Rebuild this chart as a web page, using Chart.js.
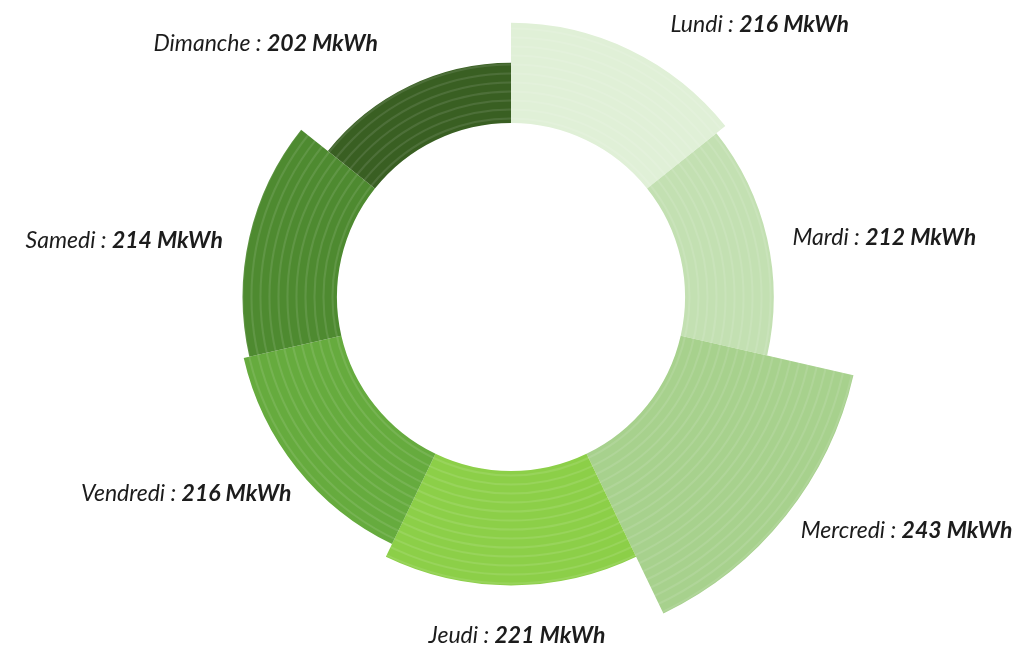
<!DOCTYPE html>
<html lang="fr">
<head>
<meta charset="utf-8">
<title>Consommation par jour</title>
<script src="https://cdn.jsdelivr.net/npm/chart.js@4.4.1/dist/chart.umd.min.js"></script>
<style>
    html, body { margin: 0; padding: 0; background: #ffffff; }
    #cadre { width: 1022px; height: 651px; position: relative; }
</style>
</head>
<body>
<div id="cadre"><canvas id="grafico-conso"></canvas></div>
<script>
// donnees
var jours = ['Lundi', 'Mardi', 'Mercredi', 'Jeudi', 'Vendredi', 'Samedi', 'Dimanche'];
var conso = [216, 212, 243, 221, 216, 214, 202];
var unite = 'MkWh';

var couleurs = ['#E0F0D7', '#C3E0B2', '#A7D18D', '#8CCF48', '#66AB3E', '#4E8A30', '#395F22'];

// trou central (comme le cutout d'un doughnut)
var trouCentral = {
    id: 'trouCentral',
    beforeDatasetsDraw: function (chart, args, opts) {
        var echelle = chart.scales.r;
        var meta = chart.getDatasetMeta(0);
        meta.data.forEach(function (arc) {
            arc.innerRadius = echelle.drawingArea * opts.cutout;
        });
    }
};

// fines rayures concentriques sur les secteurs
var rayures = {
    id: 'rayures',
    afterDatasetsDraw: function (chart, args, opts) {
        var ctx = chart.ctx;
        var echelle = chart.scales.r;
        var meta = chart.getDatasetMeta(0);
        var rMax = 0;
        meta.data.forEach(function (arc) { rMax = Math.max(rMax, arc.outerRadius); });
        ctx.save();
        ctx.globalCompositeOperation = 'source-atop';
        ctx.strokeStyle = opts.color;
        ctx.lineWidth = opts.width;
        for (var r = meta.data[0].innerRadius + opts.step / 2; r < rMax; r += opts.step) {
            ctx.beginPath();
            ctx.arc(echelle.xCenter, echelle.yCenter, r, 0, Math.PI * 2);
            ctx.stroke();
        }
        ctx.restore();
    }
};

// etiquettes "Jour : valeur MkWh" autour des secteurs
var etiquettes = {
    id: 'etiquettes',
    afterDraw: function (chart, args, opts) {
        var ctx = chart.ctx;
        var meta = chart.getDatasetMeta(0);
        ctx.save();
        ctx.fillStyle = opts.color;
        ctx.textBaseline = 'middle';
        ctx.textAlign = 'left';
        meta.data.forEach(function (arc, i) {
            var milieu = (arc.startAngle + arc.endAngle) / 2;
            var cos = Math.cos(milieu), sin = Math.sin(milieu);
            var d = arc.outerRadius + opts.gap;
            var x = arc.x + cos * d;
            var y = arc.y + sin * d;
            var partie1 = jours[i] + ' : ';
            var partie2 = conso[i] + ' ' + unite;
            var police1 = 'italic 400 ' + opts.size + 'px ' + opts.family;
            var police2 = 'italic 700 ' + opts.size + 'px ' + opts.family;
            ctx.font = police1;
            var w1 = ctx.measureText(partie1).width;
            ctx.font = police2;
            var w2 = ctx.measureText(partie2).width;
            var w = w1 + w2;
            var h = opts.size * 0.8;
            if (cos < -0.3) {
                x = x - w;
            } else if (cos <= 0.3) {
                x = x - w / 2;
            }
            if (sin > 0.3) {
                y = y + h / 2;
            } else if (sin < -0.3) {
                y = y - h / 2;
            }
            var dec = opts.decalages[i] || [0, 0];
            x += dec[0];
            y += dec[1];
            ctx.font = police1;
            ctx.fillText(partie1, x, y);
            ctx.font = police2;
            ctx.fillText(partie2, x + w1, y);
        });
        ctx.restore();
    }
};

const ctx = document.getElementById('grafico-conso');
var myChart = new Chart(ctx, {
    type: 'polarArea',
    data: {
        labels: jours,
        datasets: [{
            label: 'Consommation (' + unite + ')',
            data: conso,
            backgroundColor: couleurs,
            borderWidth: 0,
            clip: false
        }]
    },
    options: {
        responsive: true,
        maintainAspectRatio: false,
        animation: false,
        layout: {
            padding: { top: 0, left: 0, right: 0, bottom: 57 }
        },
        scales: {
            r: {
                min: 120,
                max: 224,
                startAngle: 0,
                ticks: { display: false },
                grid: { display: false },
                angleLines: { display: false },
                pointLabels: { display: false }
            }
        },
        plugins: {
            legend: { display: false },
            tooltip: { enabled: false },
            trouCentral: { cutout: 0.586 },
            rayures: { step: 9, width: 2, color: 'rgba(255,255,255,0.10)' },
            etiquettes: {
                gap: 22,
                size: 23,
                family: 'Lato, "Open Sans", sans-serif',
                color: '#1c1c1c',
                // petits decalages des etiquettes, comme sur l'original
                decalages: [[31, 4], [4, 4], [-2, -8], [6, 19], [12, 3], [-5, 8], [-22, -13]]
            }
        }
    },
    plugins: [trouCentral, rayures, etiquettes]
});
</script>
</body>
</html>
